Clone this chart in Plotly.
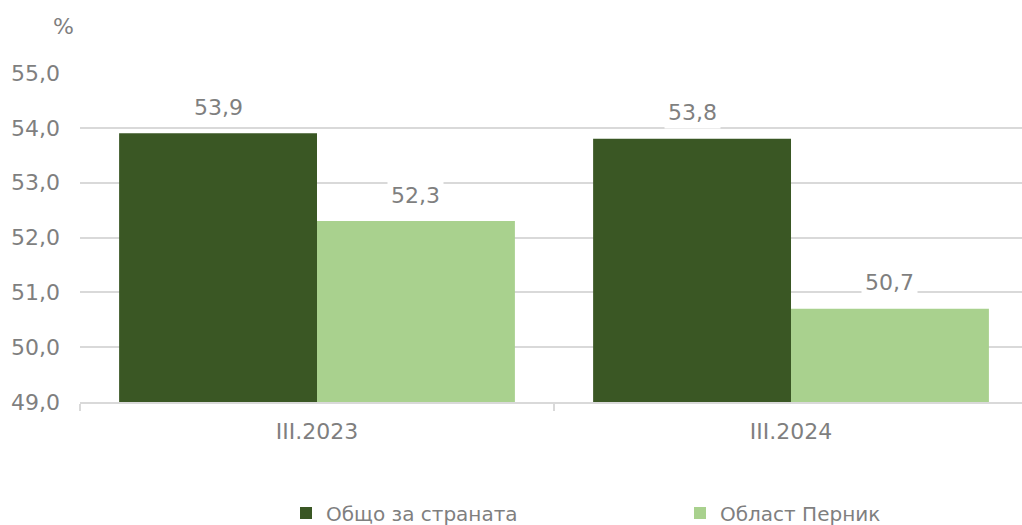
import plotly.graph_objects as go

categories = ["III.2023", "III.2024"]
series_names = ["Общо за страната", "Област Перник"]
values_country = [53.9, 53.8]
values_pernik = [52.3, 50.7]
colors = ["#3a5724", "#a9d18e"]
y_ticks = [49, 50, 51, 52, 53, 54, 55]
y_tick_labels = ["49,0", "50,0", "51,0", "52,0", "53,0", "54,0", "55,0"]

gray = "#7f7f7f"
font_family = "DejaVu Sans"
num_size = 22
bargap = 0.165
half = (1 - bargap) / 4  # offset of each bar's centre from the category centre

legend_ids = ["legend", "legend2"]
legend_left_px = [286, 680]

fig = go.Figure()
for name, vals, col, lg in zip(series_names, [values_country, values_pernik], colors, legend_ids):
    fig.add_trace(go.Bar(
        x=categories, y=[v - 49 for v in vals], base=49, name=name,
        marker=dict(color=col, line=dict(width=0)),
        hoverinfo="skip", legend=lg,
    ))

def fmt(v):
    return f"{v:.1f}".replace(".", ",")

for si, vals in enumerate([values_country, values_pernik]):
    for ci, v in enumerate(vals):
        fig.add_annotation(
            x=ci + (-half if si == 0 else half), y=v, xref="x", yref="y",
            text=fmt(v), showarrow=False, yshift=26,
            font=dict(size=num_size, color=gray, family=font_family),
            bgcolor="white", borderpad=3,
        )

fig.add_annotation(x=(63 - 80) / 942, y=(402 - 27) / 329, xref="paper", yref="paper",
                   xanchor="center", yanchor="middle",
                   text="%", showarrow=False,
                   font=dict(size=num_size, color=gray, family=font_family))

legend_common = dict(orientation="h", xanchor="left", yanchor="middle",
                     y=(402 - 513) / 329,
                     font=dict(size=20, color=gray, family=font_family),
                     itemclick=False, itemdoubleclick=False, bgcolor="rgba(0,0,0,0)")

fig.update_layout(
    width=1022, height=525,
    margin=dict(l=80, r=0, t=73, b=123, autoexpand=False),
    paper_bgcolor="white", plot_bgcolor="white",
    barmode="group", bargap=bargap, bargroupgap=0,
    font=dict(family=font_family, color=gray, size=num_size),
    showlegend=True,
    legend=dict(x=(legend_left_px[0] - 80) / 942, **legend_common),
    legend2=dict(x=(legend_left_px[1] - 80) / 942, **legend_common),
    xaxis=dict(type="category", range=[-0.5, 1.4873],
               showgrid=False, showline=True, linecolor="#d9d9d9", linewidth=2,
               ticks="outside", tickson="boundaries", ticklen=7, tickcolor="#d9d9d9",
               tickwidth=2,
               tickfont=dict(size=num_size, color=gray, family=font_family),
               ticklabelstandoff=9, fixedrange=True),
    yaxis=dict(range=[49, 55], tickvals=y_ticks, ticktext=y_tick_labels,
               showgrid=True, gridcolor="#d9d9d9", gridwidth=2,
               zeroline=False, showline=False,
               tickfont=dict(size=num_size, color=gray, family=font_family),
               ticklabelstandoff=19, fixedrange=True),
)

fig.write_html("out.html", config={"displayModeBar": False})
